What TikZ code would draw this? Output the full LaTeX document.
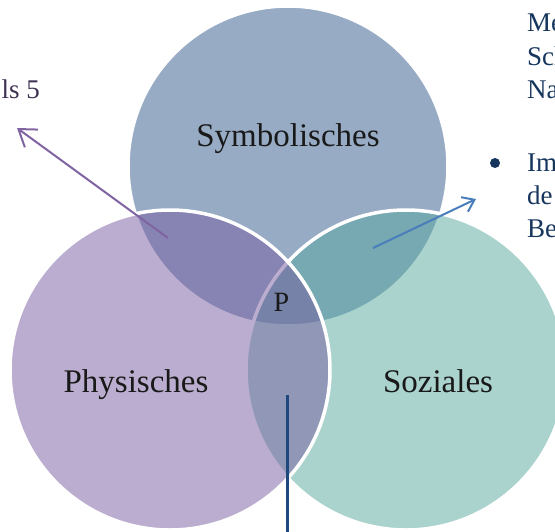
\documentclass[tikz,border=0pt]{standalone}
\usepackage{fontspec}
\setmainfont{Liberation Serif}
\usetikzlibrary{arrows.meta}
\definecolor{cT}{RGB}{49,89,141}
\definecolor{cL}{RGB}{121,93,161}
\definecolor{cR}{RGB}{87,169,159}
\definecolor{txtblue}{RGB}{23,54,93}
\definecolor{txtpurple}{RGB}{63,49,81}
\definecolor{arrpurple}{RGB}{128,100,162}
\definecolor{arrblue}{RGB}{74,126,187}
\definecolor{linedark}{RGB}{31,73,125}
\tikzset{
  venn/.style={circle, minimum size=320pt, inner sep=0pt, fill opacity=0.5, draw=white, line width=3.5pt},
  lbl/.style={inner sep=0pt, anchor=base, text=black!90, font=\fontsize{33}{40}\selectfont},
  sidetext/.style={inner sep=0pt, anchor=base west, text=txtblue, font=\fontsize{27}{33}\selectfont},
}
\begin{document}
\begin{tikzpicture}[x=1pt,y=-1pt]
\useasboundingbox (0,0) rectangle (555,531);
\clip (0,0) rectangle (555,531);
\fill[white] (0,0) rectangle (555,531);
% circles
\node[venn, fill=cT] (sym) at (288,166) {};
\node[venn, fill=cR] (soz) at (406,370) {};
\node[venn, fill=cL] (phy) at (170,370) {};
% labels
\node[lbl] (tsym) at (288,146) {Symbolisches};
\node[lbl] (tphy) at (136,392) {Physisches};
\node[lbl] (tsoz) at (438,392) {Soziales};
\node[lbl, font=\fontsize{28}{34}\selectfont] (tp) at (281.5,311) {P};
% side texts
\node[inner sep=0pt, anchor=base east, text=txtpurple, font=\fontsize{27}{33}\selectfont] (tls) at (40,98) {ls 5};
\node[sidetext] (r1) at (527,31) {Me};
\node[sidetext] (r2) at (527,65) {Sch};
\node[sidetext] (r3) at (527,98) {Na};
\node[circle, fill=txtblue, inner sep=0pt, minimum size=10pt] (bul) at (495,163) {};
\node[sidetext] (r4) at (527,171) {Im};
\node[sidetext] (r5) at (527,204) {de};
\node[sidetext] (r6) at (527,237) {Be};
% connectors
\coordinate (pa) at (168,238);
\coordinate (pt) at (17,128);
\coordinate (ba) at (373,248);
\coordinate (bt) at (476,199);
\coordinate (va) at (287.5,395);
\coordinate (vb) at (287.5,540);
\draw[arrpurple, line width=2pt, -{Straight Barb[length=16pt,width=22pt,line width=2pt]}] (pa) -- (pt);
\draw[arrblue, line width=2pt, -{Straight Barb[length=11pt,width=16pt,line width=2pt]}] (ba) -- (bt);
\draw[linedark, line width=2.5pt] (va) -- (vb);
\end{tikzpicture}
\end{document}
